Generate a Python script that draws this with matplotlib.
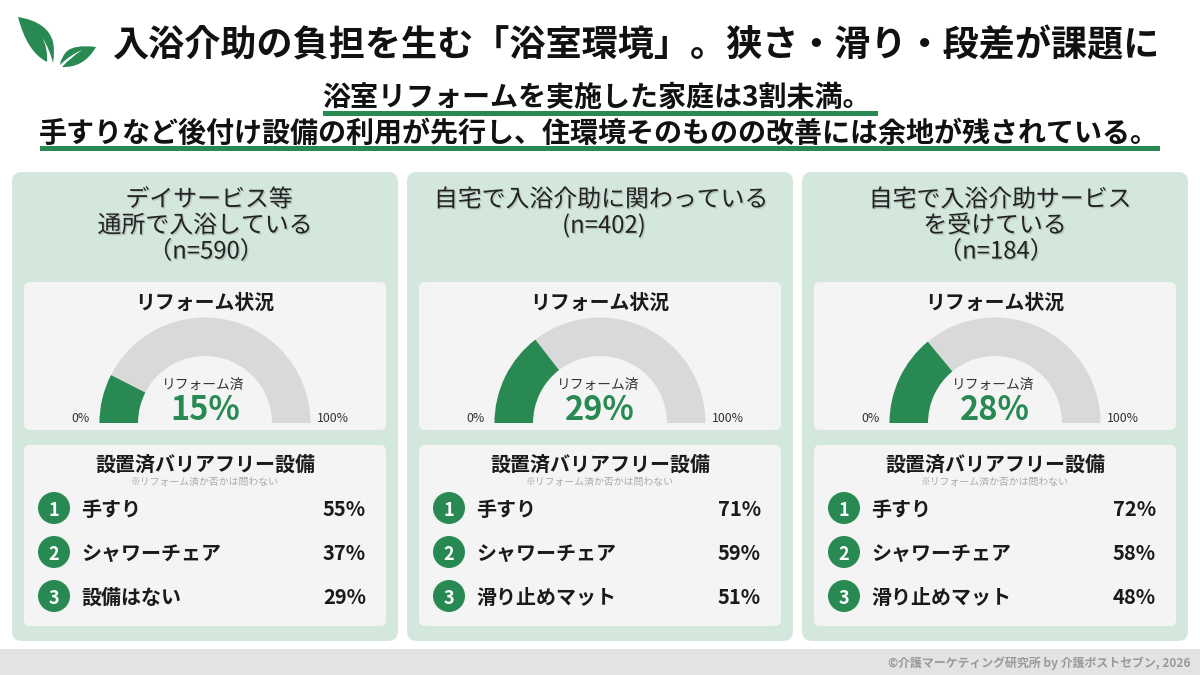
import matplotlib
matplotlib.use("Agg")
import matplotlib.pyplot as plt
import matplotlib.patheffects as pe
from matplotlib.patches import FancyBboxPatch, Wedge, Circle, Rectangle, PathPatch
from matplotlib.path import Path

plt.rcParams['font.family'] = ['Noto Sans CJK JP', 'DejaVu Sans']

GREEN = '#288a52'
PANEL = '#d4e7dd'
CARD = '#f4f4f4'
TRACK = '#d9d9d9'

title = '入浴介助の負担を生む「浴室環境」。狭さ・滑り・段差が課題に'
sub1 = '浴室リフォームを実施した家庭は3割未満。'
sub2 = '手すりなど後付け設備の利用が先行し、住環境そのものの改善には余地が残されている。'
footer = '©介護マーケティング研究所 by 介護ポストセブン, 2026'

headers = [
    ['デイサービス等', '通所で入浴している', '（n=590）'],
    ['自宅で入浴介助に関わっている', '(n=402)'],
    ['自宅で入浴介助サービス', 'を受けている', '（n=184）'],
]
reform = [15, 29, 28]
items = [
    ['手すり', 'シャワーチェア', '設備はない'],
    ['手すり', 'シャワーチェア', '滑り止めマット'],
    ['手すり', 'シャワーチェア', '滑り止めマット'],
]
item_vals = [
    [55, 37, 29],
    [71, 59, 51],
    [72, 58, 48],
]
# small sideways nudges of the header lines, the source centres them unevenly
header_nudge = [[4, 0, 1], [1, 4], [5, 0, 1]]


def box(ax, x0, y0, x1, y1, r, color):
    ax.add_patch(FancyBboxPatch((x0 + r, y0 + r), x1 - x0 - 2 * r, y1 - y0 - 2 * r,
                                boxstyle=f'round,pad={r},rounding_size={r}',
                                fc=color, ec='none'))


def leaf(ax, verts, codes):
    ax.add_patch(PathPatch(Path(verts, codes), fc=GREEN, ec='none'))


def logo(ax):
    M, C, Z = Path.MOVETO, Path.CURVE3, Path.CLOSEPOLY
    # big leaf, then its vein cut in white
    leaf(ax, [(18, 17), (48, 22), (53, 42), (55, 52), (53, 63), (50, 50), (42, 37),
              (48, 48), (47, 62), (27, 52), (18, 17), (18, 17)],
         [M, C, C, C, C, C, C, C, C, C, C, Z])
    # small leaf
    leaf(ax, [(96, 47), (74, 44), (66, 52), (60, 60), (60, 65), (70, 55), (82, 50),
              (70, 58), (62, 67), (84, 68), (96, 47), (96, 47)],
         [M, C, C, C, C, C, C, C, C, C, C, Z])


def draw_panel(ax, i):
    x0 = 12 + 395 * i
    x1 = x0 + 386
    cx = x0 + 193
    box(ax, x0, 172, x1, 641, 10, PANEL)

    shadow = [pe.withSimplePatchShadow(offset=(1, -1), shadow_rgbFace='#000000', alpha=0.15)]
    for j, line in enumerate(headers[i]):
        ax.text(cx + header_nudge[i][j], 200 + 26 * j, line, fontsize=17.2,
                ha='center', va='center', color='#222222', path_effects=shadow)

    # gauge card
    box(ax, x0 + 12, 282, x1 - 12, 430, 6, CARD)
    ax.text(cx, 302, 'リフォーム状況', fontsize=14.3, fontweight='bold', ha='center', va='center', color='#1a1a1a')
    base = 423
    ax.add_patch(Wedge((cx, base), 105.5, 180, 360, width=38.5, fc=TRACK, ec='none'))
    ax.add_patch(Wedge((cx, base), 105.5, 180, 180 + 1.8 * reform[i], width=38.5, fc=GREEN, ec='none'))
    ax.text(cx - 1.5, 385, 'リフォーム済', fontsize=9.9, ha='center', va='center', color='#333333')
    ax.text(cx, 411, f'{reform[i]}%', fontsize=23.5, fontweight='bold', ha='center', va='center', color=GREEN)
    ax.text(cx - 124.5, 419, '0%', fontsize=8.9, ha='center', va='center', color='#333333')
    ax.text(cx + 128, 419, '100%', fontsize=8.9, ha='center', va='center', color='#333333')

    # barrier free card
    box(ax, x0 + 12, 445, x1 - 12, 626, 6, CARD)
    ax.text(cx, 464, '設置済バリアフリー設備', fontsize=14.4, fontweight='bold', ha='center', va='center', color='#1a1a1a')
    ax.text(cx, 482, '※リフォーム済か否かは問わない', fontsize=7.1, ha='center', va='center', color='#aaaaaa')
    for j in range(3):
        y = 508 + 44 * j
        ax.add_patch(Circle((x0 + 42, y), 16, fc=GREEN, ec='none'))
        ax.text(x0 + 42, y + 2, str(j + 1), fontsize=13, fontweight='bold', ha='center', va='center', color='white')
        ax.text(x0 + 69, y + 1, items[i][j], fontsize=14.4, fontweight='bold', ha='left', va='center', color='#1a1a1a')
        ax.text(x1 - 32, y + 1, f'{item_vals[i][j]}%', fontsize=14.5, fontweight='bold', ha='right', va='center', color='#1a1a1a')


def main():
    fig = plt.figure(figsize=(12, 6.75), dpi=100)
    ax = fig.add_axes([0, 0, 1, 1])
    ax.set_xlim(0, 1200)
    ax.set_ylim(675, 0)
    ax.axis('off')

    logo(ax)
    ax.text(636, 46, title, fontsize=26, fontweight='bold', ha='center', va='center', color='#111111')

    ax.add_patch(Rectangle((323, 111), 555, 5, fc=GREEN, ec='none'))
    ax.add_patch(Rectangle((40, 146), 1120, 5, fc=GREEN, ec='none'))
    ax.text(596, 98, sub1, fontsize=20.2, fontweight='bold', ha='center', va='center', color='#111111')
    ax.text(599, 134, sub2, fontsize=20.2, fontweight='bold', ha='center', va='center', color='#111111')

    for i in range(3):
        draw_panel(ax, i)

    ax.add_patch(Rectangle((0, 649), 1200, 26, fc='#e3e3e3', ec='none'))
    ax.text(1191, 663, footer, fontsize=8.6, fontweight='bold', ha='right', va='center', color='#999999')

    fig.savefig('out.png', dpi=100)


if __name__ == "__main__":
    main()
